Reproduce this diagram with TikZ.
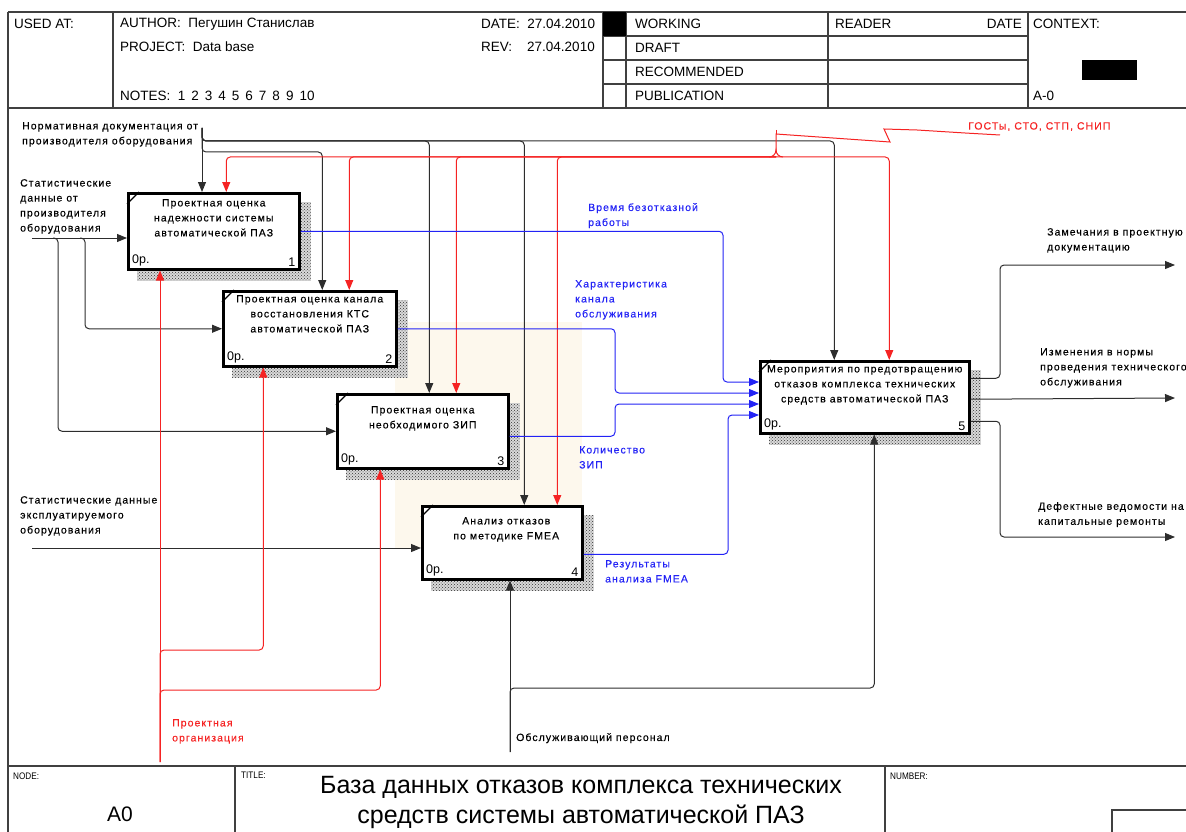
\documentclass[tikz,border=0pt]{standalone}
\usepackage{fontspec}
\setmainfont{Liberation Sans}
\newfontfamily\lblfont[LetterSpace=10,FakeBold=0.3]{Liberation Sans}
\newfontfamily\ttlfont[FakeStretch=0.86]{Liberation Sans}
\usetikzlibrary{positioning,arrows.meta,patterns,backgrounds}

\definecolor{idefred}{RGB}{245,35,35}
\definecolor{idefblue}{RGB}{35,35,245}
\definecolor{idefgray}{RGB}{45,45,45}
\definecolor{hlbeige}{RGB}{253,248,237}

\newcommand\lblsize{\lblfont\fontsize{10.5}{15}\selectfont}
\newcommand\hdrsize{\fontsize{13.5}{15}\selectfont}
\newcommand\smlsize{\ttlfont\fontsize{9.5}{11}\selectfont}

\tikzset{
  act/.style={draw, line width=2.5pt, fill=white, inner sep=0pt, anchor=north west},
  acttext/.style={font=\lblsize, align=center, inner sep=0pt},
  actcost/.style={font=\fontsize{12.5}{14}\selectfont, inner xsep=5pt, inner ysep=4pt},
  flowblk/.style={idefgray, line width=1pt, rounded corners=4pt, -{Triangle[length=10pt,width=8pt]}},
  ctrlred/.style={flowblk, idefred},
  outblue/.style={flowblk, idefblue},
  lbl/.style={font=\lblsize, align=left, inner sep=0pt, anchor=north west},
  hdr/.style={font=\hdrsize, inner sep=0pt, anchor=west},
  frame/.style={line width=1.2pt, black!75},
  shade/.style={pattern=crosshatch dots, pattern color=black!80}
}

\begin{document}
\begin{tikzpicture}[x=1pt,y=-1pt]
\useasboundingbox (0,0) rectangle (1186,832);

% form frame
\draw[frame] (8,12) -- (1186,12) (8,108) -- (1186,108) (8,766) -- (1186,766) (8,12) -- (8,832);
\draw[frame] (113,12) -- (113,108) (603,12) -- (603,108) (626,12) -- (626,108)
  (828,12) -- (828,108) (1028,12) -- (1028,108);
\draw[frame] (603,36) -- (1028,36) (603,60) -- (1028,60) (603,84) -- (1028,84);
\fill (603,12) rectangle (626,36);
\fill (1082,60) rectangle (1137,80);
\draw[frame] (235,766) -- (235,832) (885,766) -- (885,832);
\draw[frame] (1112,832) |- (1186,810);

\node[hdr] (usedat) at (14,24) {USED AT:};
\node[hdr] (author) at (120,24) {AUTHOR:\ \ Пегушин Станислав};
\node[hdr] (project) at (120,47) {PROJECT:\ \ Data base};
\node[hdr] (notes) at (120,96) {NOTES:\ \ 1\hspace{6pt}2\hspace{6pt}3\hspace{6pt}4\hspace{6pt}5\hspace{6pt}6\hspace{6pt}7\hspace{6pt}8\hspace{6pt}9\hspace{6pt}10};
\node[hdr] (date) at (481,24) {DATE:\ \ 27.04.2010};
\node[hdr] (rev) at (481,47) {REV:\ \ \ \ 27.04.2010};
\node[hdr] (working) at (635,24) {WORKING};
\node[hdr] (draft) at (635,48) {DRAFT};
\node[hdr] (recomm) at (635,72) {RECOMMENDED};
\node[hdr] (public) at (635,96) {PUBLICATION};
\node[hdr] (reader) at (835,24) {READER};
\node[hdr, anchor=east] (rdate) at (1022,24) {DATE};
\node[hdr] (context) at (1033,24) {CONTEXT:};
\node[hdr] (ctxnode) at (1033,96) {A-0};

\node[font=\smlsize, anchor=west, inner sep=0pt] (nodelbl) at (13,776) {NODE:};
\node[font=\fontsize{21}{22}\selectfont, inner sep=0pt] (nodeid) at (120,814) {A0};
\node[font=\smlsize, anchor=west, inner sep=0pt] (titlelbl) at (241,775) {TITLE:};
\node[font=\fontsize{25}{30}\selectfont, align=center, inner sep=0pt] (title) at (581,802)
  {База данных отказов комплекса технических\\средств системы автоматической ПАЗ};
\node[font=\smlsize, anchor=west, inner sep=0pt] (numlbl) at (890,776) {NUMBER:};

% activities
\node[act, minimum width=171pt, minimum height=76pt] (b1) at (127,192) {};
\node[act, minimum width=173pt, minimum height=75pt] (b2) at (222,290) {};
\node[act, minimum width=171pt, minimum height=74pt] (b3) at (336,393) {};
\node[act, minimum width=160pt, minimum height=73pt] (b4) at (421,505) {};
\node[act, minimum width=209pt, minimum height=72pt] (b5) at (759,360) {};

\node[acttext, below=7pt of b1.north] (t1) {Проектная оценка\\надежности системы\\автоматической ПАЗ};
\node[acttext, below=5pt of b2.north] (t2) {Проектная оценка канала\\восстановления КТС\\автоматической ПАЗ};
\node[acttext, below=13pt of b3.north] (t3) {Проектная оценка\\необходимого ЗИП};
\node[acttext, below=12pt of b4.north, xshift=4pt] (t4) {Анализ отказов\\по методике FMEA};
\node[acttext, below=5pt of b5.north] (t5) {Мероприятия по предотвращению\\отказов комплекса технических\\средств автоматической ПАЗ};

\foreach \i in {1,...,5} {
  \node[actcost, anchor=south west] (c\i) at (b\i.south west) {0р.};
  \node[actcost, anchor=south east] (n\i) at (b\i.south east) {\i};
  \draw[line width=1.2pt] ([yshift=-12pt]b\i.north west) -- ([xshift=12pt]b\i.north west);
}

\begin{scope}[on background layer]
  \fill[hlbeige] (395,322) rectangle (582,548);
  \foreach \i in {1,...,5} {
    \fill[gray!30] ([shift={(10,10)}]b\i.north west) rectangle ([shift={(10,10)}]b\i.south east);
    \fill[shade] ([shift={(10,10)}]b\i.north west) rectangle ([shift={(10,10)}]b\i.south east);
  }
\end{scope}

% inputs
\coordinate (sd1) at (32,238);
\coordinate (sd2) at (32,548);
\draw[flowblk] (sd1) -- (sd1 -| b1.west);
\draw[flowblk] (80,238) -| (85,300) |- (b2.west);
\draw[flowblk] (53,238) -| (58,400) |- (b3.west);
\draw[flowblk] (sd2) -- (sd2 -| b4.west);

% controls
\coordinate (nd) at (202,128);
\draw[flowblk] (nd) -- (nd |- b1.north);
\draw[flowblk] (nd) |- (215,141) -| ([xshift=-30.5pt]b5.north);
\draw[flowblk] (nd) |- (215,141) -| ([xshift=6.5pt]b3.north);
\draw[flowblk] (nd) |- (215,141) -| ([xshift=22pt]b4.north);
\draw[flowblk] (nd) |- (215,152) -| ([xshift=12.5pt]b2.north);

\coordinate (rj) at (776,157);
\draw[ctrlred] (rj) -| ([xshift=12.5pt]b1.north);
\draw[ctrlred] (rj) -| ([xshift=39.5pt]b2.north);
\draw[ctrlred] (rj) -| ([xshift=33.5pt]b3.north);
\draw[ctrlred] (rj) -| ([xshift=55pt]b4.north);
\draw[ctrlred] (rj) -| ([xshift=24.5pt]b5.north);

\node[lbl, text=idefred] (gost) at (968,122) {ГОСТы, СТО, СТП, СНИП};
\draw[idefred, line width=1pt] (1000,135) -- (965,133) -- (917,130)
  -- (884,129) -- (890,142) -- (776,134) -- (776,151);
\draw[idefred, line width=1pt] (776,130) -- (776,134);
\draw[idefred, line width=1pt] (769,157) to[out=0,in=-90] (776,150) to[out=-90,in=180] (783,157);

% mechanisms
\coordinate (po) at (160,762);
\draw[ctrlred] (po) -- (po |- b1.south);
\draw[ctrlred] (po) |- (175,650) -| ([xshift=-46.5pt]b2.south);
\draw[ctrlred] (po) |- (175,690) -| ([xshift=-42.5pt]b3.south);

\coordinate (op) at (510,752);
\draw[flowblk] (op) -- (op |- b4.south);
\draw[flowblk] (op) |- (525,688) -| ([xshift=9.5pt]b5.south);

% outputs
\coordinate (v1) at (723,382);
\coordinate (v2) at (615,393);
\coordinate (v3) at (615,404);
\coordinate (v4) at (728,415);
\draw[outblue] (b1.east) -| (v1) -- (v1 -| b5.west);
\draw[outblue] (b2.east) -| (v2) -- (v2 -| b5.west);
\draw[outblue] ([yshift=-5pt]b3.east) -| (v3) -- (v3 -| b5.west);
\draw[outblue] ([yshift=-11.5pt]b4.east) -| (v4) -- (v4 -| b5.west);

\coordinate (zam) at (1175,265);
\coordinate (izm) at (1175,398);
\coordinate (def) at (1175,537);
\draw[flowblk] ([yshift=19pt]b5.east) -| (1000,300) |- (zam);
\draw[flowblk] ([yshift=-2pt]b5.east) -- (izm);
\draw[flowblk] ([yshift=-24pt]b5.east) -| (1000,480) |- (def);

% arrow labels
\node[lbl] (ndlbl) at (22,122) {Нормативная документация от\\производителя оборудования};
\node[lbl] (sd1lbl) at (20,179) {Статистические\\данные от\\производителя\\оборудования};
\node[lbl] (sd2lbl) at (20,496) {Статистические данные\\эксплуатируемого\\оборудования};
\node[lbl, text=idefblue] (o1lbl) at (588,203) {Время безотказной\\работы};
\node[lbl, text=idefblue] (o2lbl) at (575,280) {Характеристика\\канала\\обслуживания};
\node[lbl, text=idefblue] (o3lbl) at (579,446) {Количество\\ЗИП};
\node[lbl, text=idefblue] (o4lbl) at (605,560) {Результаты\\анализа FMEA};
\node[lbl] (zamlbl) at (1047,228) {Замечания в проектную\\документацию};
\node[lbl] (izmlbl) at (1040,348) {Изменения в нормы\\проведения технического\\обслуживания};
\node[lbl] (deflbl) at (1038,502) {Дефектные ведомости на\\капитальные ремонты};
\node[lbl, text=idefred] (polbl) at (172,719) {Проектная\\организация};
\node[lbl] (oplbl) at (516,733) {Обслуживающий персонал};
\end{tikzpicture}
\end{document}
